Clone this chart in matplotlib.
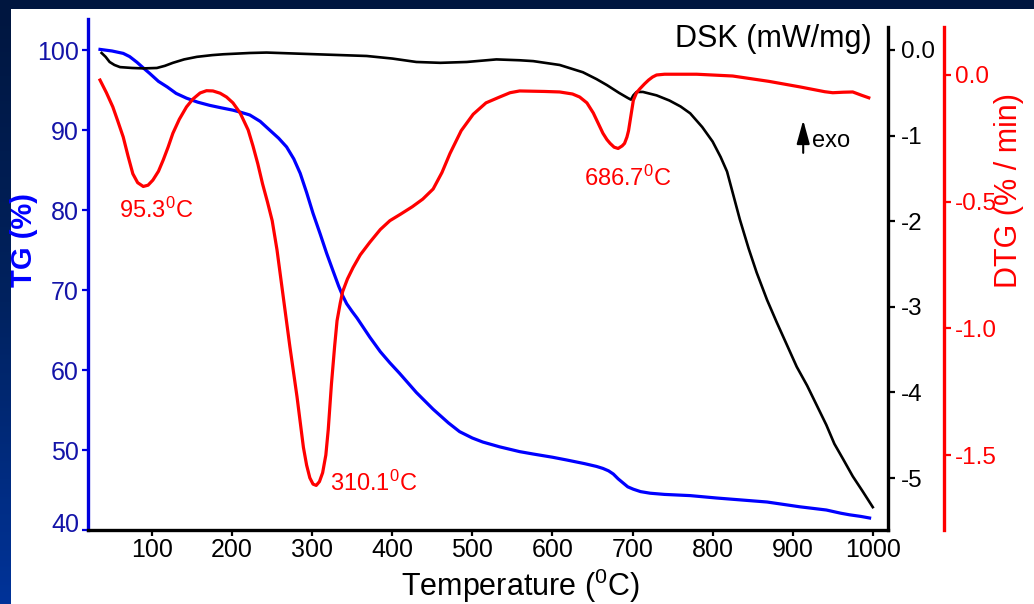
import numpy as np
import matplotlib
matplotlib.use("Agg")
import matplotlib.pyplot as plt
from matplotlib.colors import LinearSegmentedColormap
from matplotlib.patches import Rectangle
import matplotlib.transforms as mtransforms

plt.rcParams['font.family'] = ['Liberation Sans', 'DejaVu Sans']
plt.rcParams['mathtext.fontset'] = 'custom'
plt.rcParams['mathtext.rm'] = 'Liberation Sans'
plt.rcParams['mathtext.it'] = 'Liberation Sans:italic'
plt.rcParams['mathtext.bf'] = 'Liberation Sans:bold'
plt.rcParams['mathtext.default'] = 'regular'
plt.rcParams['axes.unicode_minus'] = False

# ---------------- data ----------------
tg_T = [35, 50, 64, 72, 81, 90, 97, 108, 119, 130, 143, 157, 172, 186, 201, 212, 222,
        235, 247, 258, 268, 277, 285, 293, 301, 310, 318, 326, 333, 338, 343, 350,
        356, 364, 372, 385, 397, 409, 430, 451, 470, 484, 500, 513, 534, 559, 576,
        600, 618, 640, 655, 663, 670, 676, 682, 688, 694, 701, 710, 722, 740, 772,
        805, 868, 909, 942, 960, 971, 985, 996]
tg_val = [100.1, 99.9, 99.6, 99.2, 98.5, 97.7, 97.1, 96.1, 95.4, 94.6, 94.0, 93.5,
          93.1, 92.8, 92.5, 92.2, 91.9, 91.1, 90.0, 89.0, 87.9, 86.4, 84.6, 82.2,
          79.6, 77.0, 74.6, 72.4, 70.5, 69.3, 68.3, 67.3, 66.5, 65.3, 64.1, 62.3,
          60.9, 59.6, 57.2, 55.1, 53.4, 52.3, 51.5, 51.0, 50.4, 49.8, 49.5, 49.1,
          48.75, 48.3, 47.95, 47.7, 47.4, 47.0, 46.4, 45.9, 45.4, 45.1, 44.8, 44.6,
          44.45, 44.3, 44.0, 43.5, 42.9, 42.5, 42.1, 41.9, 41.7, 41.5]

dsk_T = [37, 42, 47, 53, 60, 75, 89, 106, 116, 126, 140, 156, 175, 189, 222, 243,
         305, 368, 400, 430, 460, 493, 530, 559, 576, 609, 638, 655, 668, 683, 694,
         698, 701, 705, 713, 730, 746, 760, 772, 787, 800, 810, 818, 826, 834, 845,
         855, 868, 880, 893, 905, 918, 930, 942, 952, 963, 975, 987, 1000]
dsk_val = [-0.035, -0.08, -0.14, -0.175, -0.20, -0.21, -0.215, -0.21, -0.185, -0.15,
           -0.11, -0.08, -0.06, -0.05, -0.035, -0.03, -0.05, -0.07, -0.10, -0.14,
           -0.15, -0.14, -0.11, -0.12, -0.13, -0.175, -0.26, -0.34, -0.41, -0.50,
           -0.56, -0.58, -0.53, -0.49, -0.49, -0.53, -0.59, -0.66, -0.74, -0.90,
           -1.07, -1.25, -1.42, -1.70, -1.98, -2.32, -2.60, -2.92, -3.18, -3.45,
           -3.70, -3.92, -4.15, -4.38, -4.60, -4.78, -4.98, -5.15, -5.34]

dtg_T = [35, 43, 51, 57, 64, 70, 76, 82, 89, 95, 101, 108, 114, 120, 126, 134, 143,
         151, 160, 168, 176, 185, 193, 201, 210, 220, 226, 232, 238, 244, 250, 256,
         264, 272, 281, 289, 293, 297, 301, 305, 309, 313, 317, 320, 324, 328, 331,
         335, 338, 344, 351, 360, 372, 385, 397, 410, 425, 438, 451, 462, 472, 486,
         501, 517, 534, 547, 559, 590, 609, 625, 634, 643, 651, 657, 663, 668, 672,
         677, 682, 687, 690, 693, 695, 698, 701, 705, 709, 715, 720, 725, 730, 740,
         780, 825, 870, 909, 940, 950, 963, 975, 986, 995]
dtg_val = [-0.02, -0.07, -0.126, -0.18, -0.245, -0.32, -0.39, -0.425, -0.44, -0.435,
           -0.415, -0.38, -0.335, -0.285, -0.23, -0.175, -0.126, -0.095, -0.071,
           -0.062, -0.063, -0.072, -0.087, -0.11, -0.15, -0.217, -0.28, -0.35, -0.43,
           -0.50, -0.575, -0.69, -0.88, -1.07, -1.27, -1.47, -1.54, -1.59, -1.615,
           -1.62, -1.605, -1.57, -1.50, -1.40, -1.22, -1.07, -0.97, -0.90, -0.855,
           -0.805, -0.76, -0.71, -0.66, -0.61, -0.575, -0.55, -0.52, -0.49, -0.45,
           -0.385, -0.31, -0.22, -0.155, -0.11, -0.087, -0.07, -0.063, -0.065, -0.067,
           -0.075, -0.087, -0.11, -0.15, -0.19, -0.23, -0.255, -0.27, -0.285, -0.29,
           -0.28, -0.27, -0.245, -0.22, -0.16, -0.10, -0.07, -0.055, -0.035, -0.02,
           -0.008, 0.0, 0.003, 0.003, -0.004, -0.025, -0.047, -0.066, -0.07, -0.068,
           -0.067, -0.08, -0.09]

x_ticks = [100, 200, 300, 400, 500, 600, 700, 800, 900, 1000]
tg_ticks = [40, 50, 60, 70, 80, 90, 100]
dsk_ticks = [0, -1, -2, -3, -4, -5]
dsk_ticklabels = ['0.0', '-1', '-2', '-3', '-4', '-5']
dtg_ticks = [0.0, -0.5, -1.0, -1.5]
dtg_ticklabels = ['0.0', '-0.5', '-1.0', '-1.5']

peaks = [("95.3$^0$C", 105, -0.533, 'center'),
         ("310.1$^0$C", 322, -1.61, 'left'),
         ("686.7$^0$C", 694, -0.407, 'center')]

# ---------------- figure ----------------
W, H = 1034, 604
fig = plt.figure(figsize=(W / 100, H / 100), dpi=100)
fig.patch.set_facecolor('white')

# decorative frame (top band + left gradient band)
fig.patches.append(Rectangle((0, 1 - 9 / H), 1, 9 / H, transform=fig.transFigure,
                             facecolor='#00163f', edgecolor='none', zorder=0))
band = fig.add_axes([0, 0, 11 / W, 1])
cmap = LinearSegmentedColormap.from_list('band', ['#00163f', '#00225f', '#003399'])
band.imshow(np.linspace(0, 1, 256).reshape(-1, 1), aspect='auto', cmap=cmap,
            extent=[0, 1, 0, 1], origin='upper')
band.set_axis_off()

ax = fig.add_axes([88 / W, 1 - 530 / H, 800 / W, 511 / H])
ax.set_facecolor('none')
ax2 = ax.twinx()
ax3 = ax.twinx()

blue = '#0000ff'
red = '#ff0000'

ax.plot(tg_T, tg_val, color=blue, lw=2.3, solid_joinstyle='round', zorder=3)
ax2.plot(dsk_T, dsk_val, color='black', lw=1.9, solid_joinstyle='round', zorder=3)
ax3.plot(dtg_T, dtg_val, color=red, lw=2.3, solid_joinstyle='round', zorder=3)

ax.set_xlim(20, 1019)
ax.set_ylim(40, 103.9)
ax2.set_ylim(-5.607, 0.362)
ax3.set_ylim(-1.796, 0.221)

# spines
for s in ['top', 'right']:
    ax.spines[s].set_visible(False)
ax.spines['left'].set_color('#0000dd')
ax.spines['left'].set_linewidth(2.4)
ax.spines['bottom'].set_color('black')
ax.spines['bottom'].set_linewidth(2.4)
for a in (ax2, ax3):
    for s in ['top', 'left', 'bottom']:
        a.spines[s].set_visible(False)
ax2.spines['right'].set_color('black')
ax2.spines['right'].set_linewidth(2.4)
ax2.spines['right'].set_bounds(-5.607, 0.269)
ax3.spines['right'].set_position(('axes', 1.07))
ax3.spines['right'].set_color(red)
ax3.spines['right'].set_linewidth(2.4)
ax3.spines['right'].set_bounds(-1.796, 0.189)

# ticks
ax.set_xticks(x_ticks)
ax.set_yticks(tg_ticks)
ax.tick_params(axis='x', direction='out', length=4, width=1.6, colors='black',
               labelsize=18, pad=2)
ax.tick_params(axis='y', direction='out', length=4.5, width=1.6, color='#0000dd',
               labelcolor='#1414a8', labelsize=18, pad=2)
ax2.set_yticks(dsk_ticks)
ax2.set_yticklabels(dsk_ticklabels)
ax2.tick_params(axis='y', direction='out', length=5, width=1.6, colors='black',
                labelsize=17.5, pad=4)
ax3.set_yticks(dtg_ticks)
ax3.set_yticklabels(dtg_ticklabels)
ax3.tick_params(axis='y', direction='out', length=5, width=1.6, colors=red,
                labelsize=17.5, pad=3)

# nudge the "40" label upward like in the reference
lbl40 = ax.get_yticklabels()[0]
lbl40.set_transform(lbl40.get_transform() +
                    mtransforms.ScaledTranslation(0, 8 / 100, fig.dpi_scale_trans))

# peak annotations
for txt, tx, ty, ha in peaks:
    ax3.text(tx, ty, txt, color=red, fontsize=17, ha=ha, va='center', zorder=5)

# axis titles
fig.text(520 / W, 1 - 596 / H, 'Temperature ($^0$C)', fontsize=22, ha='center',
         va='baseline', color='black')
fig.text(24 / W, 1 - 240 / H, 'TG (%)', fontsize=21, fontweight='bold', color=blue,
         rotation=90, ha='center', va='center')
fig.text(1009 / W, 1 - 191 / H, 'DTG (% / min)', fontsize=22, color=red,
         rotation=90, ha='center', va='center')
ax.text(0.98, 0.961, 'DSK (mW/mg)', transform=ax.transAxes, fontsize=22,
        ha='right', va='center', color='black')

# exo arrow
ax.annotate('', xy=(0.894, 0.802), xytext=(0.894, 0.738), xycoords='axes fraction',
            arrowprops=dict(arrowstyle='-|>,head_length=0.8,head_width=0.22',
                            color='black', lw=1.5, mutation_scale=18,
                            shrinkA=0, shrinkB=0))
ax.text(0.905, 0.762, 'exo', transform=ax.transAxes, fontsize=17, ha='left',
        va='center', color='black')

fig.savefig('out.png', dpi=100)
